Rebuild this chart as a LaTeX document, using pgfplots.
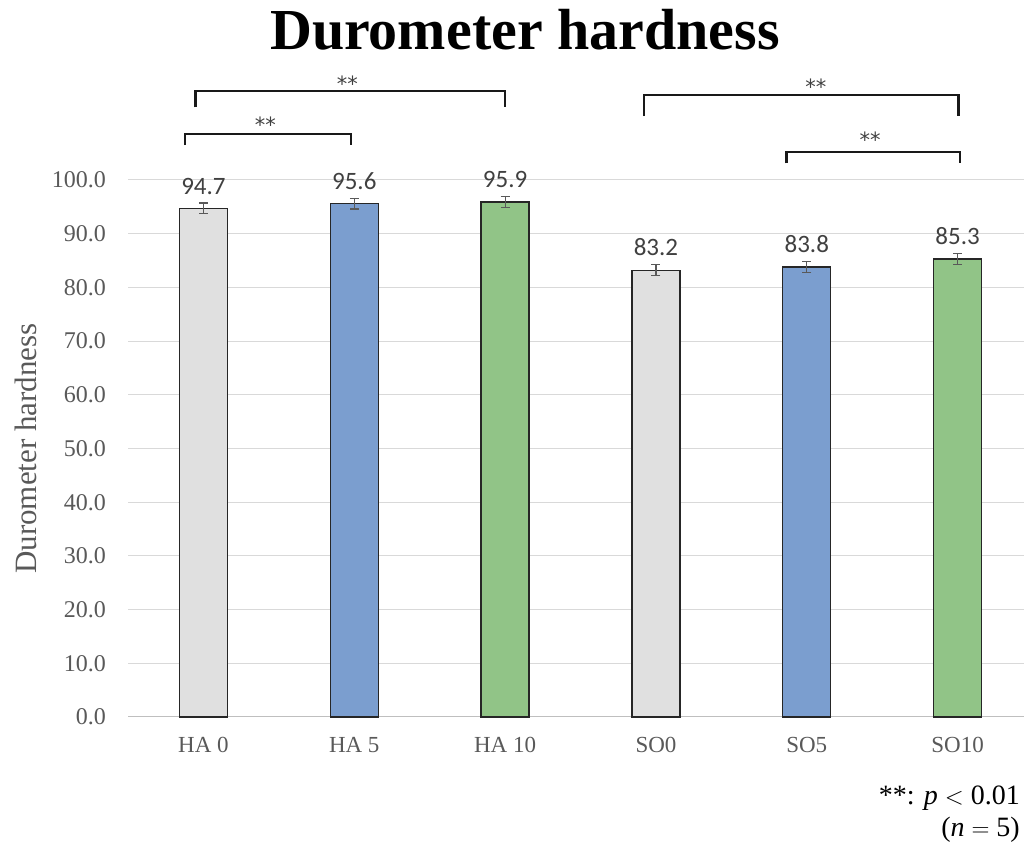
\documentclass[border=0pt]{standalone}
\usepackage{fontspec}
\setmainfont{Liberation Serif}
\newfontfamily\carlito{Carlito}
\newfontfamily\djv{DejaVu Sans}
\usepackage{pgfplots}
\pgfplotsset{compat=1.18}

\definecolor{barGray}{RGB}{224,224,224}
\definecolor{barBlue}{RGB}{123,158,207}
\definecolor{barGreen}{RGB}{145,196,135}
\definecolor{txtGray}{RGB}{89,89,89}
\definecolor{lblGray}{RGB}{64,64,64}
\definecolor{gridGray}{RGB}{217,217,217}

\begin{document}
\begin{tikzpicture}
\begin{axis}[
  at={(128pt,128pt)}, anchor=south west,
  scale only axis, width=896pt, height=537pt,
  xmin=-0.5, xmax=5.44, ymin=0, ymax=100,
  clip=false,
  ybar, bar width=48pt, bar shift=0pt,
  /pgf/number format/assume math mode=true,
  axis x line*=bottom, axis y line*=left,
  y axis line style={draw=none},
  x axis line style={draw=black!25, line width=1pt, -},
  major tick length=0pt,
  ymajorgrids, grid style={gridGray, line width=1pt},
  ytick={0,10,...,100},
  yticklabel style={font=\fontsize{24}{27}\selectfont, text=txtGray, inner sep=0pt, xshift=-22pt,
    /pgf/number format/fixed, /pgf/number format/fixed zerofill, /pgf/number format/precision=1},
  xtick={0,1,2,3,4,5},
  xticklabels={HA 0, HA 5, HA 10, SO0, SO5, SO10},
  xticklabel style={font=\fontsize{23}{26}\selectfont, text=txtGray, inner sep=0pt, yshift=-20pt},
  ylabel={Durometer hardness},
  ylabel style={at={(axis description cs:-0.1135,0.5)}, anchor=center,
    font=\fontsize{31}{34}\selectfont, text=txtGray},
  title={\textbf{Durometer hardness}},
  title style={at={(axis description cs:0.443,1.232)}, anchor=base, font=\fontsize{58}{62}\selectfont},
  every axis plot/.append style={draw=black!85, line width=1.3pt},
  nodes near coords={\pgfmathprintnumber[fixed,fixed zerofill,precision=1]{\pgfplotspointmeta}},
  every node near coord/.append style={font=\carlito\fontsize{25}{28}\selectfont, text=lblGray,
    anchor=south, inner sep=0pt, yshift=13.5pt},
  error bars/y dir=both, error bars/y explicit,
  error bars/error bar style={txtGray, line width=1.2pt},
  error bars/error mark options={rotate=90, mark size=4.5pt, line width=1.2pt, txtGray},
]
\addplot[fill=barGray] coordinates {(0,94.7) +- (0,1.0) (3,83.2) +- (0,1.0)};
\addplot[fill=barBlue] coordinates {(1,95.6) +- (0,1.0) (4,83.8) +- (0,1.0)};
\addplot[fill=barGreen] coordinates {(2,95.9) +- (0,1.0) (5,85.3) +- (0,1.0)};

% significance brackets
\draw[line width=2.2pt, black!90] (axis cs:-0.053,113.5) |- (axis cs:2.0,116.6) -- (axis cs:2.0,113.5);
\draw[line width=2.2pt, black!90] (axis cs:-0.12,106.5) |- (axis cs:0.98,108.5) -- (axis cs:0.98,106.5);
\draw[line width=2.2pt, black!90] (axis cs:2.92,111.9) |- (axis cs:5.005,115.8) -- (axis cs:5.005,111.9);
\draw[line width=2.2pt, black!90] (axis cs:3.866,103.1) |- (axis cs:5.015,105.2) -- (axis cs:5.015,103.1);
\node[anchor=north, inner sep=0pt, font=\djv\fontsize{21}{24}\selectfont, text=lblGray] at (axis cs:0.955,119.4) {**};
\node[anchor=north, inner sep=0pt, font=\djv\fontsize{21}{24}\selectfont, text=lblGray] at (axis cs:0.41,111.7) {**};
\node[anchor=north, inner sep=0pt, font=\djv\fontsize{21}{24}\selectfont, text=lblGray] at (axis cs:4.06,118.8) {**};
\node[anchor=north, inner sep=0pt, font=\djv\fontsize{21}{24}\selectfont, text=lblGray] at (axis cs:4.42,108.9) {**};
\end{axis}
\node[anchor=base east, inner sep=0pt, font=\fontsize{28}{31}\selectfont] at (1020pt,40pt) {**: \textit{p} $<$ 0.01};
\node[anchor=base east, inner sep=0pt, font=\fontsize{28}{31}\selectfont] at (1020pt,9pt) {(\textit{n} $=$ 5)};
\pgfresetboundingbox
\path (0,0) rectangle (1024pt,845pt);
\end{tikzpicture}
\end{document}
